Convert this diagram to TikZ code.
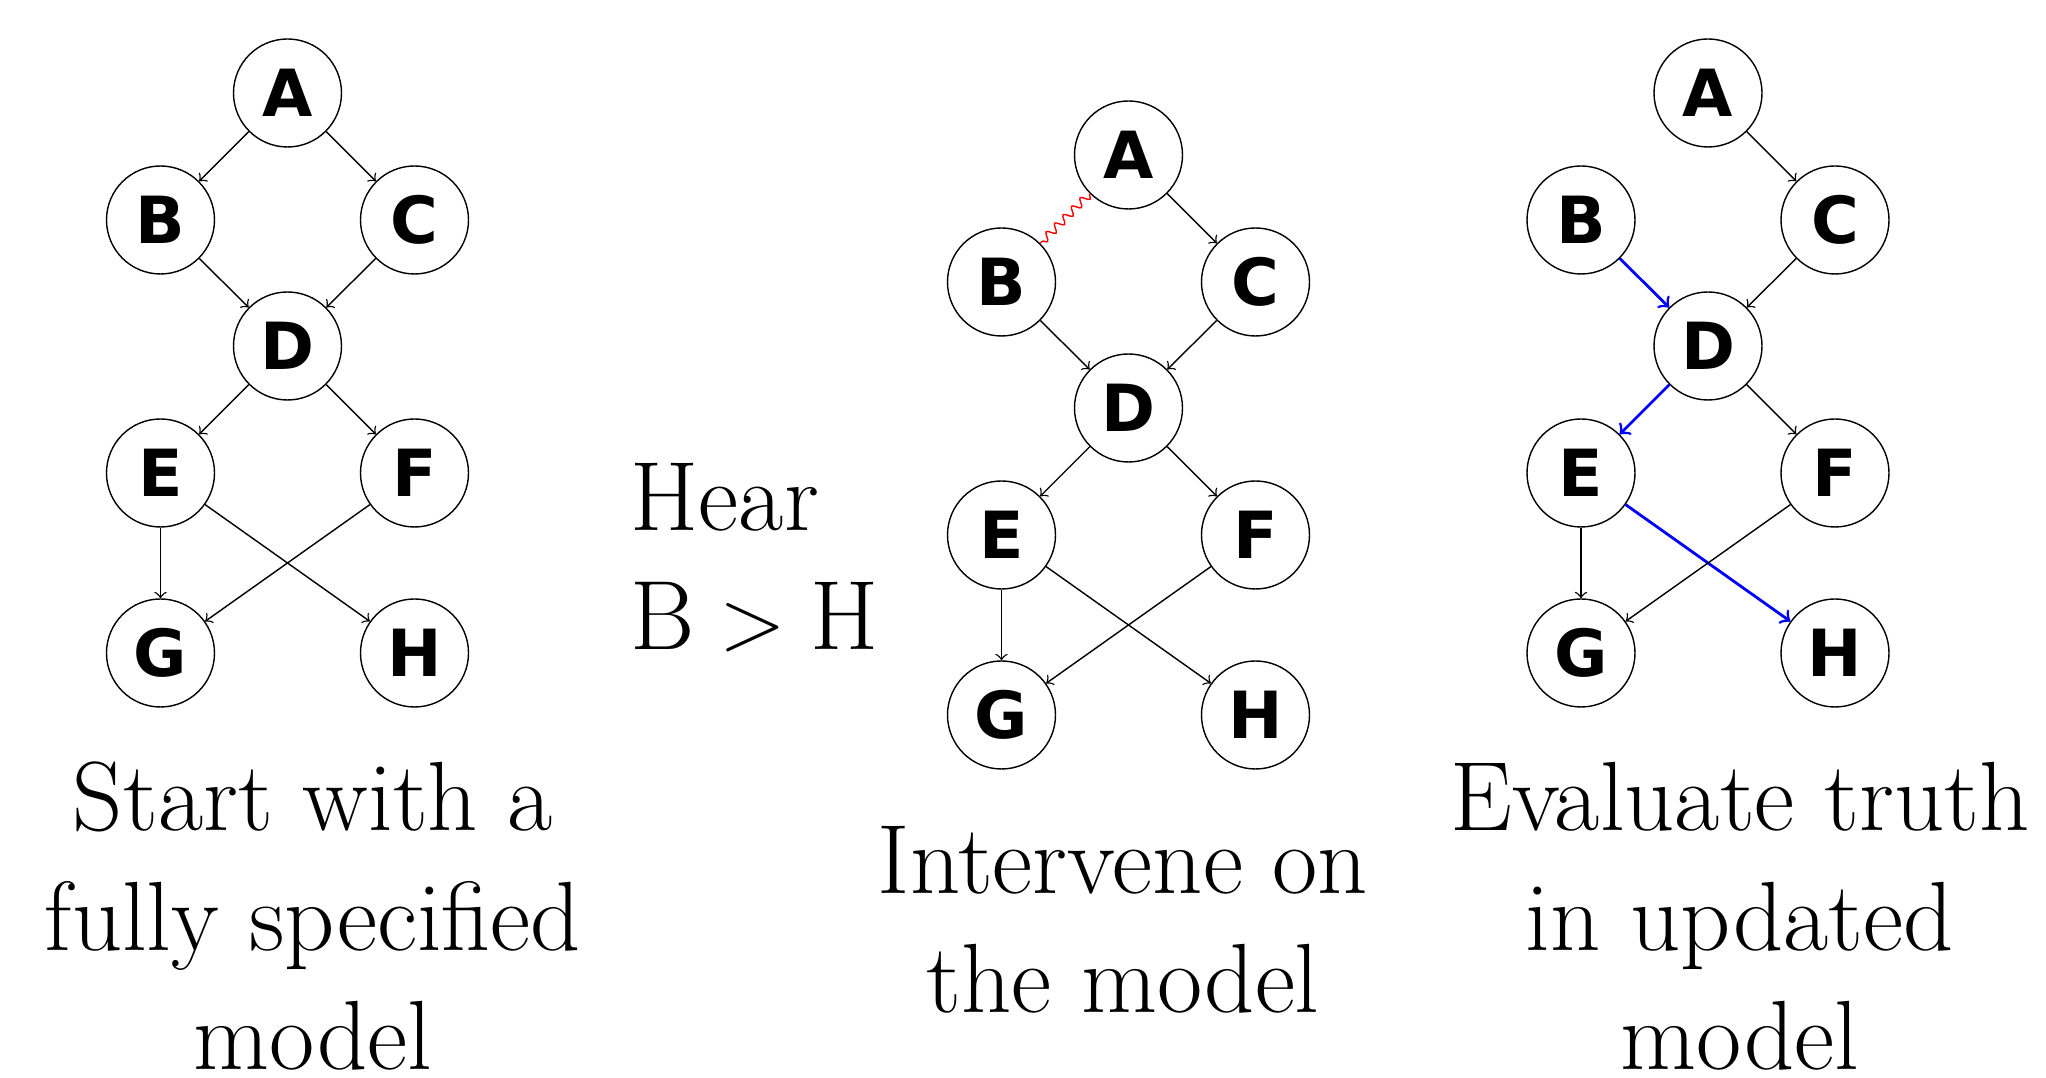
\documentclass[tikz,border=0pt]{standalone}
\usepackage{fontspec}
\newfontfamily\nodefont{DejaVu Sans}
\usetikzlibrary{decorations.pathmorphing}
\begin{document}
\begin{tikzpicture}
\tikzstyle{vertex}=[circle, minimum size=10.8mm, inner sep=0pt, draw=black, line width=0.4pt, font=\nodefont\bfseries\fontsize{18.5}{18.5}\selectfont]
\tikzstyle{link}=[->, line width=0.4pt]
\tikzstyle{truth}=[->, draw=blue, line width=0.8pt]
\tikzstyle{intervene}=[draw=red, line width=0.4pt, decorate, decoration={snake, amplitude=0.4mm, segment length=1.2mm}]
\tikzstyle{captiontext}=[align=center, inner sep=0pt, font=\fontsize{28}{34.1}\selectfont]
\useasboundingbox (0,0) rectangle (20.46,-10.78);

% Starting model
\node[vertex] (A1) at (2.875,-0.93) {A};
\node[vertex] (B1) at (1.605,-2.20) {B};
\node[vertex] (C1) at (4.145,-2.20) {C};
\node[vertex] (D1) at (2.875,-3.46) {D};
\node[vertex] (E1) at (1.605,-4.73) {E};
\node[vertex] (F1) at (4.145,-4.73) {F};
\node[vertex] (G1) at (1.605,-6.53) {G};
\node[vertex] (H1) at (4.145,-6.53) {H};

% Model after the intervention
\node[vertex] (A2) at (11.285,-1.55) {A};
\node[vertex] (B2) at (10.015,-2.82) {B};
\node[vertex] (C2) at (12.555,-2.82) {C};
\node[vertex] (D2) at (11.285,-4.08) {D};
\node[vertex] (E2) at (10.015,-5.35) {E};
\node[vertex] (F2) at (12.555,-5.35) {F};
\node[vertex] (G2) at (10.015,-7.15) {G};
\node[vertex] (H2) at (12.555,-7.15) {H};

% Updated model
\node[vertex] (A3) at (17.08,-0.93) {A};
\node[vertex] (B3) at (15.81,-2.20) {B};
\node[vertex] (C3) at (18.35,-2.20) {C};
\node[vertex] (D3) at (17.08,-3.46) {D};
\node[vertex] (E3) at (15.81,-4.73) {E};
\node[vertex] (F3) at (18.35,-4.73) {F};
\node[vertex] (G3) at (15.81,-6.53) {G};
\node[vertex] (H3) at (18.35,-6.53) {H};

% Texts (base = last line)
\node[captiontext, align=left, anchor=base west] (hear) at (6.30,-6.50) {Hear\\$\mathrm{B}>\mathrm{H}$};
\node[captiontext, anchor=base] (cap1) at (3.13,-10.70) {Start with a\\fully specified\\model};
\node[captiontext, anchor=base] (cap2) at (11.23,-10.13) {Intervene on\\the model};
\node[captiontext, anchor=base] (cap3) at (17.40,-10.70) {Evaluate truth\\in updated\\model};

% Connect nodes
\draw[link] (A1) -- (B1);
\draw[link] (A1) -- (C1);
\draw[link] (B1) -- (D1);
\draw[link] (C1) -- (D1);
\draw[link] (D1) -- (E1);
\draw[link] (D1) -- (F1);
\draw[link] (E1) -- (G1);
\draw[link] (E1) -- (H1);
\draw[link] (F1) -- (G1);

\draw[intervene] (A2) -- (B2);
\draw[link] (A2) -- (C2);
\draw[link] (B2) -- (D2);
\draw[link] (C2) -- (D2);
\draw[link] (D2) -- (E2);
\draw[link] (D2) -- (F2);
\draw[link] (E2) -- (G2);
\draw[link] (E2) -- (H2);
\draw[link] (F2) -- (G2);

\draw[link] (A3) -- (C3);
\draw[truth] (B3) -- (D3);
\draw[link] (C3) -- (D3);
\draw[truth] (D3) -- (E3);
\draw[link] (D3) -- (F3);
\draw[link] (E3) -- (G3);
\draw[truth] (E3) -- (H3);
\draw[link] (F3) -- (G3);
\end{tikzpicture}
\end{document}
